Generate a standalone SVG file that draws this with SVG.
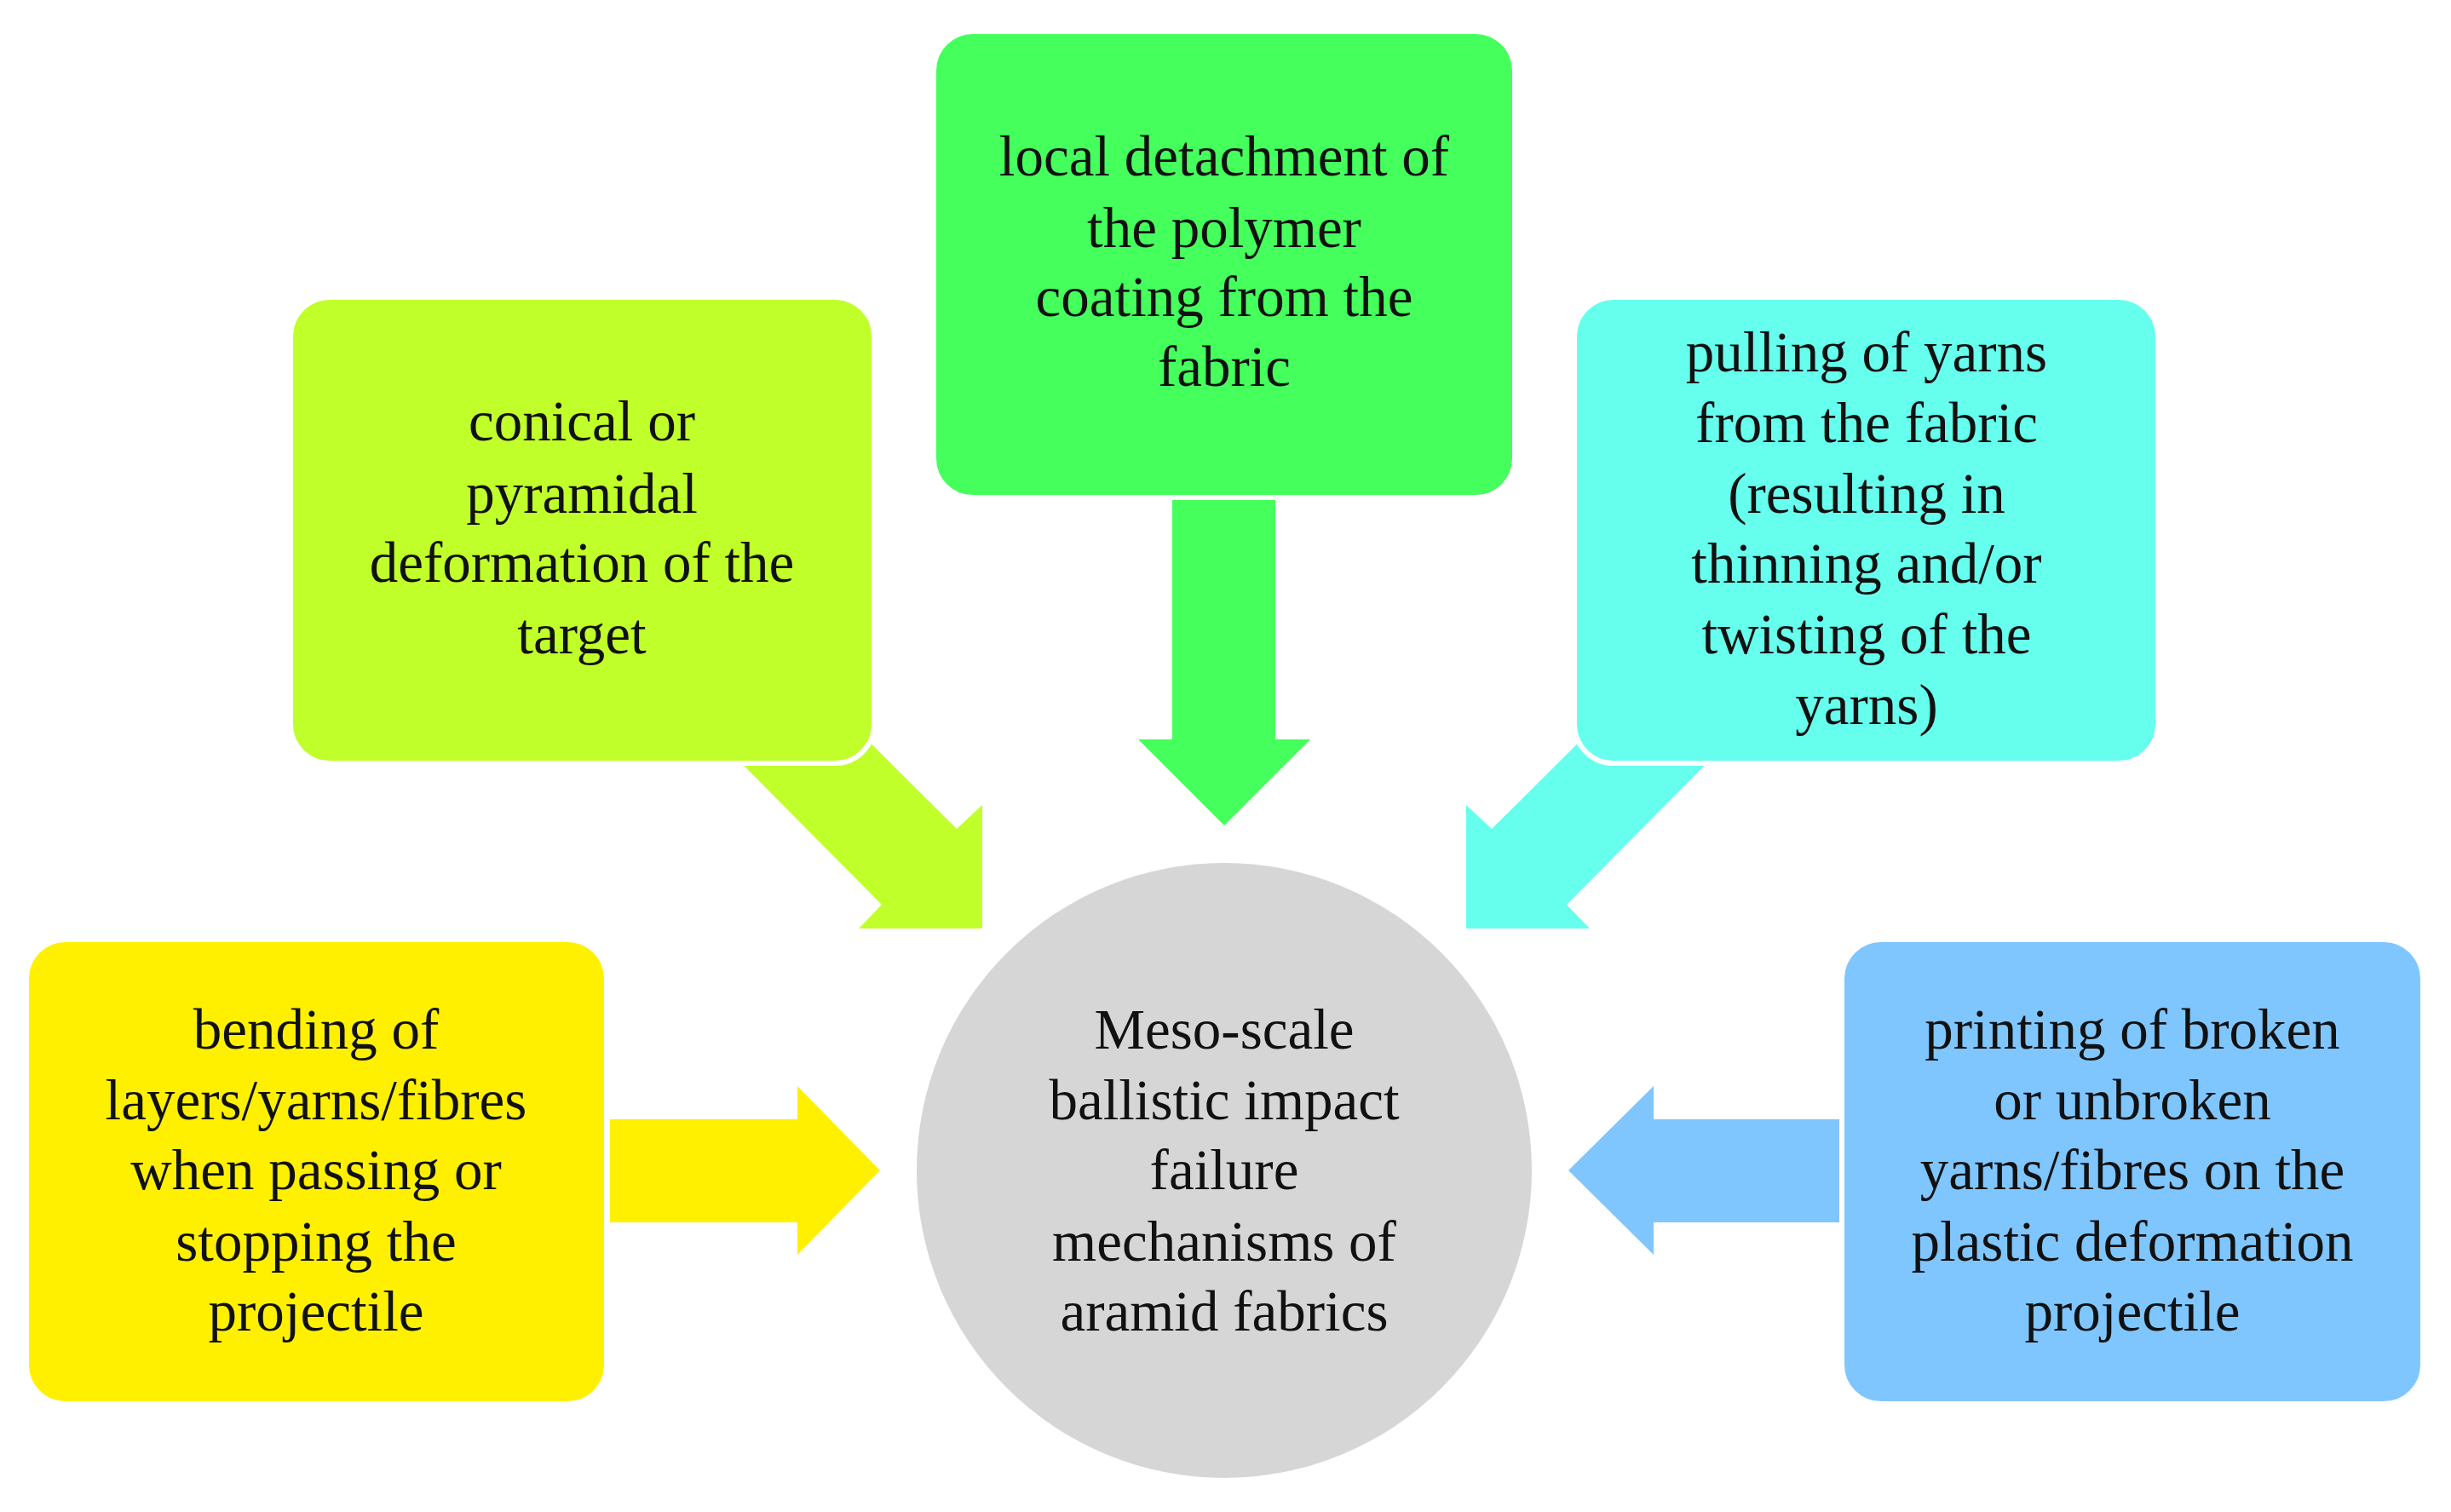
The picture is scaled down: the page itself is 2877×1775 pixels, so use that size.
<svg xmlns="http://www.w3.org/2000/svg" width="2877" height="1775" viewBox="0 0 2877 1775">
<style>
text{font-family:"Liberation Serif","Times New Roman",serif;font-size:67px;fill:#111;text-anchor:middle}
.box{stroke:#fff;stroke-width:6}
</style>
<rect width="2877" height="1775" fill="#fff"/>
<g id="connectors">
<polygon fill="#FFF000" points="716,1314 936,1314 936,1275 1033,1374 936,1473 936,1435 716,1435"/>
<polygon fill="#44FF5C" points="1376,560 1497,560 1497,868 1538,868 1437,969 1336,868 1376,868"/>
<polygon fill="#7FC6FF" points="2160,1314 1941,1314 1941,1275 1841,1374 1941,1473 1941,1435 2160,1435"/>
<polygon fill="#C0FF2A" points="800,825 1035,1062 1008,1090 1153,1090 1153,945 1123,973 949,800"/>
<polygon fill="#66FFEE" points="2074,825 1839,1062 1866,1090 1721,1090 1721,945 1751,973 1925,800"/>
</g>
<g id="center">
<circle cx="1437" cy="1374" r="361" fill="#D6D6D6"/>
<text x="1437" y="1231">Meso-scale</text><text x="1437" y="1314">ballistic impact</text><text x="1437" y="1396">failure</text><text x="1437" y="1480">mechanisms of</text><text x="1437" y="1562">aramid fabrics</text>
</g>
<g id="bending">
<rect class="box" x="31" y="1103" width="681" height="545" rx="46" fill="#FFF000"/>
<text x="371" y="1231">bending of</text><text x="371" y="1314">layers/yarns/fibres</text><text x="371" y="1396">when passing or</text><text x="371" y="1480">stopping the</text><text x="371" y="1562">projectile</text>
</g>
<g id="conical">
<rect class="box" x="341" y="349" width="685" height="547" rx="46" fill="#C0FF2A"/>
<text x="683" y="517">conical or</text><text x="683" y="602">pyramidal</text><text x="683" y="683">deformation of the</text><text x="683" y="767">target</text>
</g>
<g id="local">
<rect class="box" x="1096" y="37" width="682" height="547" rx="46" fill="#44FF5C"/>
<text x="1437" y="206">local detachment of</text><text x="1437" y="290">the polymer</text><text x="1437" y="371">coating from the</text><text x="1437" y="453">fabric</text>
</g>
<g id="pulling">
<rect class="box" x="1848" y="349" width="685" height="547" rx="46" fill="#66FFEE"/>
<text x="2191" y="436">pulling of yarns</text><text x="2191" y="519">from the fabric</text><text x="2191" y="602">(resulting in</text><text x="2191" y="684">thinning and/or</text><text x="2191" y="767">twisting of the</text><text x="2191" y="850">yarns)</text>
</g>
<g id="printing">
<rect class="box" x="2162" y="1103" width="682" height="545" rx="46" fill="#7FC6FF"/>
<text x="2503" y="1231">printing of broken</text><text x="2503" y="1314">or unbroken</text><text x="2503" y="1396">yarns/fibres on the</text><text x="2503" y="1480">plastic deformation</text><text x="2503" y="1562">projectile</text>
</g>
</svg>
